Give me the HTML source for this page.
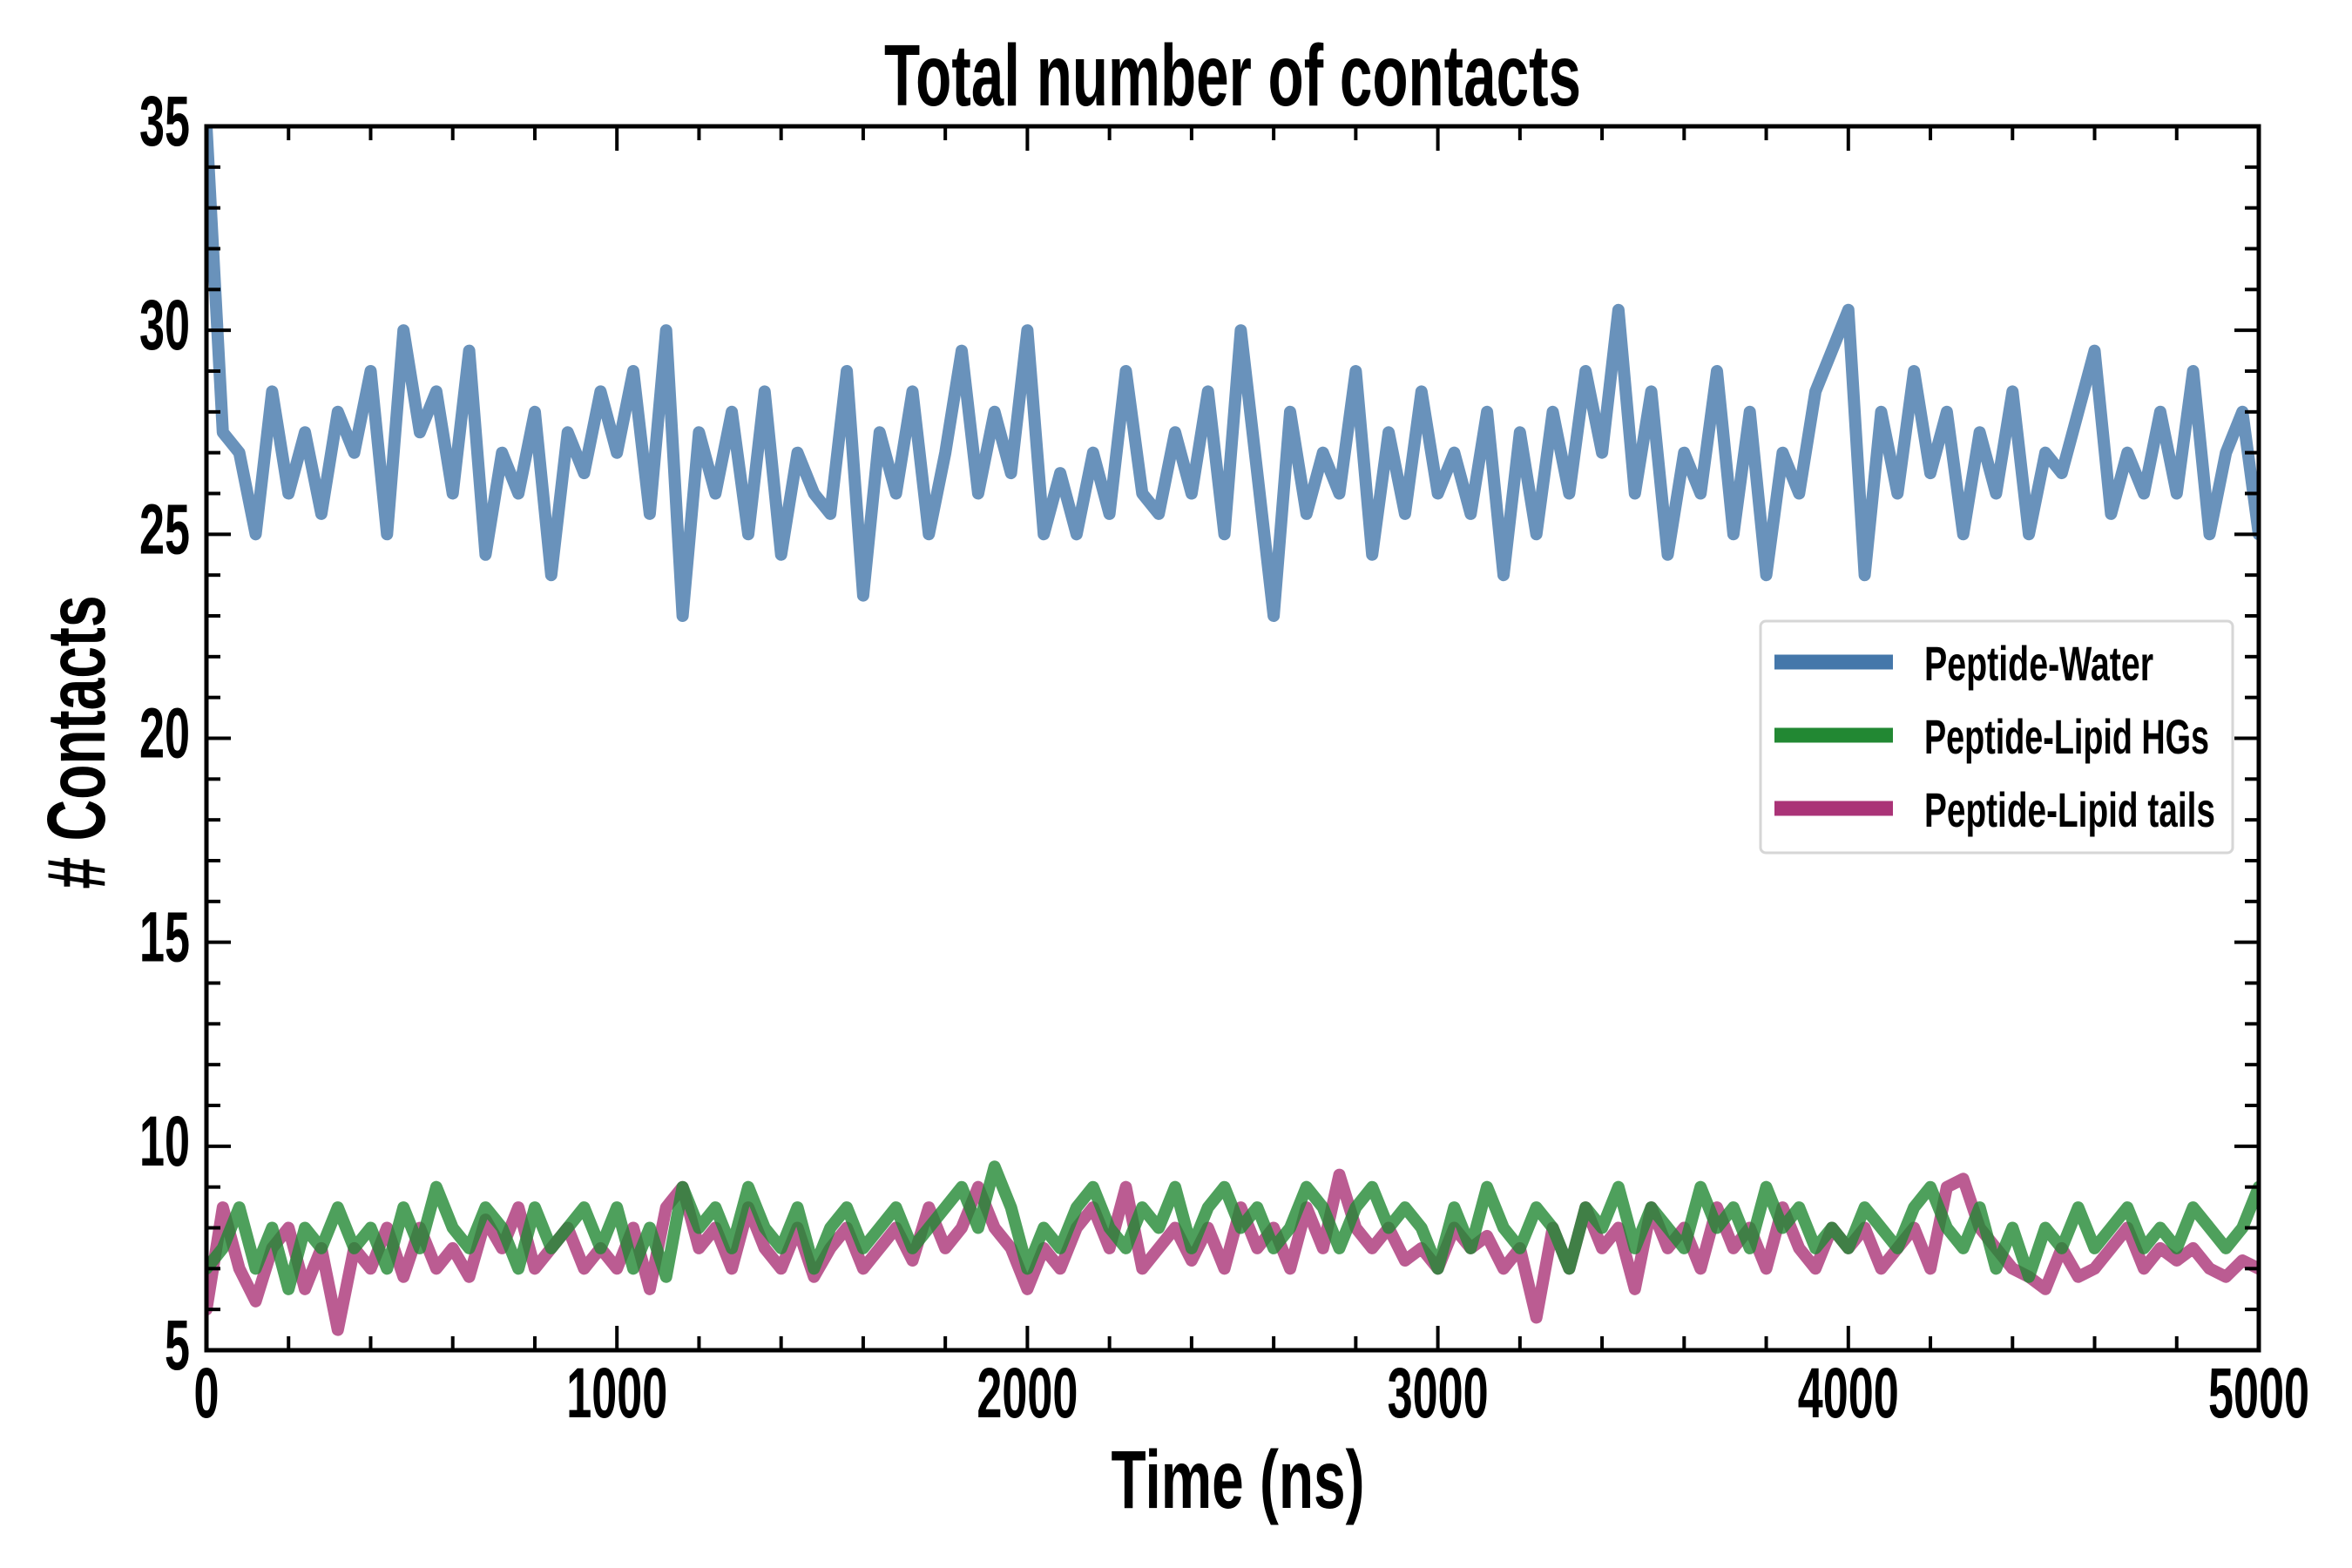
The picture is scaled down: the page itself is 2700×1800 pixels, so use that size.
<!DOCTYPE html>
<html><head><meta charset="utf-8"><style>
html,body{margin:0;padding:0;background:#fff;}
svg{display:block;}
text{font-family:"Liberation Sans Narrow","Liberation Sans",sans-serif;font-weight:bold;fill:#000;}
</style></head><body>
<svg id="chart" width="2700" height="1800" viewBox="0 0 2700 1800" xmlns="http://www.w3.org/2000/svg">
<text x="1415" y="121" font-size="100" text-anchor="middle" textLength="800" lengthAdjust="spacingAndGlyphs">Total number of contacts</text>
<text x="1421" y="1731" font-size="95" text-anchor="middle" textLength="291" lengthAdjust="spacingAndGlyphs">Time (ns)</text>
<text x="0" y="0" font-size="95" text-anchor="middle" textLength="337" lengthAdjust="spacingAndGlyphs" transform="translate(120,852) rotate(-90)"># Contacts</text>
<g id="series"></g>
<g id="axes"></g>
<g>
<rect x="2021" y="713" width="542" height="266" rx="6" fill="#fff" fill-opacity="0.85" stroke="#d6d6d6" stroke-width="3"/>
<line x1="2037" x2="2173" y1="760" y2="760" stroke="#4477aa" stroke-width="17"/>
<line x1="2037" x2="2173" y1="844" y2="844" stroke="#228833" stroke-width="17"/>
<line x1="2037" x2="2173" y1="928" y2="928" stroke="#aa3377" stroke-width="17"/>
<text x="2209" y="781" font-size="56" textLength="263" lengthAdjust="spacingAndGlyphs">Peptide-Water</text>
<text x="2209" y="865" font-size="56" textLength="327" lengthAdjust="spacingAndGlyphs">Peptide-Lipid HGs</text>
<text x="2209" y="949" font-size="56" textLength="334" lengthAdjust="spacingAndGlyphs">Peptide-Lipid tails</text>
</g>
</svg>
<script>
const timeStep = 40;
const waterValues = [35,27.5,27,25,28.5,26,27.5,25.5,28,27,29,25,30,27.5,28.5,26,29.5,24.5,27,26,28,24,27.5,26.5,28.5,
27,29,25.5,30,23,27.5,26,28,25,28.5,24.5,27,26,25.5,29,23.5,27.5,26,28.5,25,27,29.5,26,28,26.5,
30,25,26.5,25,27,25.5,29,26,25.5,27.5,26,28.5,25,30,26.5,23,28,25.5,27,26,29,24.5,27.5,25.5,28.5,
26,27,25.5,28,24,27.5,25,28,26,29,27,30.5,26,28.5,24.5,27,26,29,25,28,24,27,26,28.5,29.5,
30.5,24,28,26,29,26.5,28,25,27.5,26,28.5,25,27,26.5,28,29.5,25.5,27,26,28,26,29,25,27,28,25];
const hgValues = [7,7.5,8.5,7,8,6.5,8,7.5,8.5,7.5,8,7,8.5,7.5,9,8,7.5,8.5,8,7,8.5,7.5,8,8.5,7.5,
8.5,7,8,6.8,9,8,8.5,7.5,9,8,7.5,8.5,7,8,8.5,7.5,8,8.5,7.5,8,8.5,9,8,9.5,8.5,
7,8,7.5,8.5,9,8,7.5,8.5,8,9,7.5,8.5,9,8,8.5,7.5,8,9,8.5,7.5,8.5,9,8,8.5,8,
7,8.5,7.5,9,8,7.5,8.5,8,7,8.5,8,9,7.5,8.5,8,7.5,9,8,8.5,7.5,9,8,8.5,7.5,8,
7.5,8.5,8,7.5,8.5,9,8,7.5,8.5,7,8,6.8,8,7.5,8.5,7.5,8,8.5,7.5,8,7.5,8.5,8,7.5,8,9];
const tailValues = [6,8.5,7,6.2,7.5,8,6.5,7.5,5.5,7.5,7,8,6.8,8,7,7.5,6.8,8.2,7.5,8.5,7,7.5,8,7,7.5,
7,8,6.5,8.5,9,7.5,8,7,8.5,7.5,7,8,6.8,7.5,8,7,7.5,8,7.2,8.5,7.5,8,9,8,7.5,
6.5,7.5,7,8,8.5,7.5,9,7,7.5,8,7.2,8,7,8.5,7.5,8,7,8.5,7.5,9.3,8,7.5,8,7.2,7.5,
7,8,7.5,7.8,7,7.5,5.8,8,7,8.5,7.5,8,6.5,8.5,7.5,8,7,8.5,7.5,8,7,8.5,7.5,7,8,
7.5,8,7,7.5,8,7,9,9.2,8,7.5,7,6.8,6.5,7.5,6.8,7,7.5,8,7,7.5,7.2,7.5,7,6.8,7.2,7];
const xTickLabels = ["0","1000","2000","3000","4000","5000"];
const yTickLabels = ["5","10","15","20","25","30","35"];

const L=237,R=2593,T=145,B=1550;
const xMin=0,xMax=5000,yMin=5,yMax=35;
function xs(v){return L+(v-xMin)/(xMax-xMin)*(R-L);}
function ys(v){return B-(v-yMin)/(yMax-yMin)*(B-T);}
const NS="http://www.w3.org/2000/svg";
function mk(tag,attrs,parent){const e=document.createElementNS(NS,tag);for(const k in attrs)e.setAttribute(k,attrs[k]);parent.appendChild(e);return e;}

const sg=document.getElementById('series');
const clip=mk('clipPath',{id:'pc'},sg);
mk('rect',{x:L,y:T,width:R-L,height:B-T},clip);
function drawSeries(vals,color,name){
  const d=vals.map((v,i)=>(i?'L':'M')+xs(i*timeStep).toFixed(1)+','+ys(v).toFixed(1)).join(' ');
  const p=mk('path',{d:d,fill:'none',stroke:color,'stroke-width':14,'stroke-opacity':0.8,'stroke-linejoin':'round','stroke-linecap':'round','clip-path':'url(#pc)'},sg);
  
  
}
drawSeries(waterValues,'#4477aa','peptide-water-line');
drawSeries(tailValues,'#aa3377','peptide-lipid-tails-line');
drawSeries(hgValues,'#228833','peptide-lipid-hgs-line');

const ag=document.getElementById('axes');
const frame=mk('rect',{x:L,y:T,width:R-L,height:B-T,fill:'none',stroke:'#000','stroke-width':5},ag);


for(let v=0;v<=5000;v+=200){
  const major=v%1000===0, len=major?28:16, x=xs(v);
  mk('line',{x1:x,x2:x,y1:B,y2:B-len,stroke:'#000','stroke-width':4},ag);
  mk('line',{x1:x,x2:x,y1:T,y2:T+len,stroke:'#000','stroke-width':4},ag);
}
for(let v=5;v<=35;v+=1){
  const major=v%5===0, len=major?28:16, y=ys(v);
  mk('line',{x1:L,x2:L+len,y1:y,y2:y,stroke:'#000','stroke-width':4},ag);
  mk('line',{x1:R,x2:R-len,y1:y,y2:y,stroke:'#000','stroke-width':4},ag);
}
xTickLabels.forEach((s,i)=>{
  const t=mk('text',{x:xs(Number(s)),y:1627,'font-size':82,'text-anchor':'middle',textLength:s.length*29,lengthAdjust:'spacingAndGlyphs'},ag);
  t.textContent=s;
  
  
});
yTickLabels.forEach((s,i)=>{
  const t=mk('text',{x:218,y:ys(Number(s))+22,'font-size':82,'text-anchor':'end',textLength:s.length*29,lengthAdjust:'spacingAndGlyphs'},ag);
  t.textContent=s;
  
  
});
</script>
</body></html>
